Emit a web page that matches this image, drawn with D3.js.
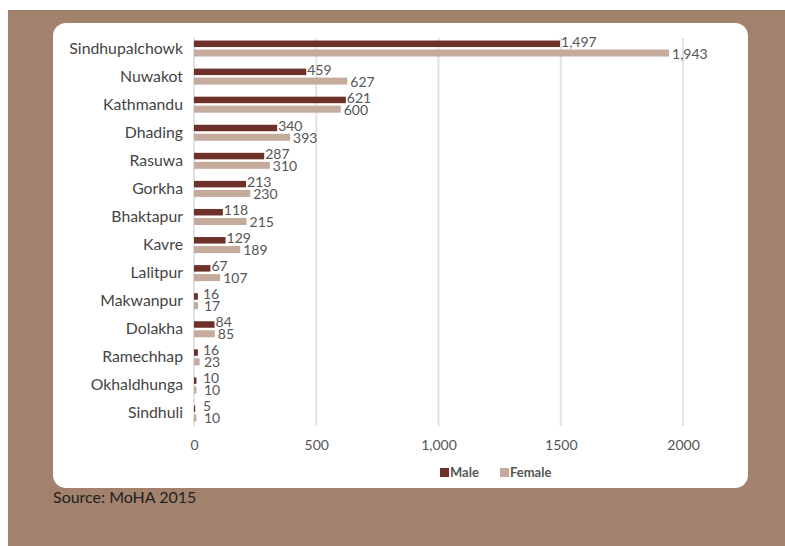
<!DOCTYPE html>
<html><head><meta charset="utf-8">
<script src="https://cdn.jsdelivr.net/npm/d3@7"></script>
<style>
html,body{margin:0;padding:0;background:#fff;}
svg{display:block;}
</style></head>
<body>
<script>
const categories = ["Sindhupalchowk","Nuwakot","Kathmandu","Dhading","Rasuwa","Gorkha","Bhaktapur","Kavre","Lalitpur","Makwanpur","Dolakha","Ramechhap","Okhaldhunga","Sindhuli"];
const male   = [1497,459,621,340,287,213,118,129,67,16,84,16,10,5];
const female = [1943,627,600,393,310,230,215,189,107,17,85,23,10,10];
const tickValues = [0,500,1000,1500,2000];
const tickLabels = ["0","500","1,000","1500","2000"];
const seriesNames = ["Male","Female"];
const seriesColors = ["#6e3129","#c5ab9c"];

const W = 785, H = 546;
const svg = d3.select("body").append("svg").attr("width",W).attr("height",H);
const font = "Lato, 'Noto Sans', sans-serif";

svg.append("rect").attr("x",8).attr("y",10).attr("width",W-8).attr("height",H-10).attr("fill","#a3826d");
svg.append("rect").attr("x",53).attr("y",23).attr("width",695).attr("height",465).attr("rx",13).attr("fill","#fff");

const x = d3.scaleLinear().domain([0,2000]).range([194,683]);
const y = d3.scaleBand().domain(categories).range([35,428]);

// gridlines
svg.append("g").selectAll("line").data(tickValues).join("line")
  .attr("x1",d=>x(d)).attr("x2",d=>x(d)).attr("y1",38).attr("y2",426)
  .attr("stroke","#e2e2e2").attr("stroke-width",2);

// axis labels
const xAxis = d3.axisBottom(x).tickValues(tickValues).tickFormat((d,i)=>tickLabels[i]).tickSize(0).tickPadding(0);
const ax = svg.append("g").attr("transform","translate(0,440)").call(xAxis);
ax.select(".domain").remove();
ax.selectAll("text").attr("font-family",font).attr("font-size",14).attr("fill","#555").attr("dy","0.71em");

// category labels
svg.append("g").selectAll("text").data(categories).join("text")
  .attr("x",183).attr("y",d=>y(d)+y.bandwidth()/2-1).attr("dy","0.35em")
  .attr("text-anchor","end").attr("font-family",font).attr("font-size",15.8).attr("fill","#444")
  .text(d=>d);

const fmt = d3.format(",");
const rows = categories.map((c,i)=>({c,m:male[i],f:female[i]}));
const g = svg.append("g");
g.selectAll("rect.m").data(rows).join("rect").attr("class","m")
  .attr("x",x(0)).attr("y",d=>y(d.c)+y.bandwidth()/2-8.5).attr("height",6.5)
  .attr("width",d=>x(d.m)-x(0)).attr("fill",seriesColors[0]);
g.selectAll("rect.f").data(rows).join("rect").attr("class","f")
  .attr("x",x(0)).attr("y",d=>y(d.c)+y.bandwidth()/2+0.5).attr("height",7)
  .attr("width",d=>x(d.f)-x(0)).attr("fill",seriesColors[1]);
// value labels
g.selectAll("text.m").data(rows).join("text").attr("class","m")
  .attr("x",d=>Math.max(x(d.m)+1,203)).attr("y",d=>y(d.c)+y.bandwidth()/2-2.5)
  .attr("font-family",font).attr("font-size",14).attr("fill","#555").text(d=>fmt(d.m));
g.selectAll("text.f").data(rows).join("text").attr("class","f")
  .attr("x",d=>Math.max(x(d.f)+3,204)).attr("y",d=>y(d.c)+y.bandwidth()/2+9.5)
  .attr("font-family",font).attr("font-size",14).attr("fill","#555").text(d=>fmt(d.f));

// legend
const legX = [440,500];
const lg = svg.append("g").selectAll("g").data(seriesNames).join("g")
  .attr("transform",(d,i)=>`translate(${legX[i]},468)`);
lg.append("rect").attr("width",9).attr("height",9).attr("fill",(d,i)=>seriesColors[i]);
lg.append("text").attr("x",10).attr("y",9).attr("font-family",font).attr("font-weight","bold")
  .attr("font-size",13).attr("fill","#555").text(d=>d);

// source
svg.append("text").attr("x",53).attr("y",503).attr("font-family",font).attr("font-size",16)
  .attr("fill","#222").text("Source: MoHA 2015");
</script>
</body></html>
